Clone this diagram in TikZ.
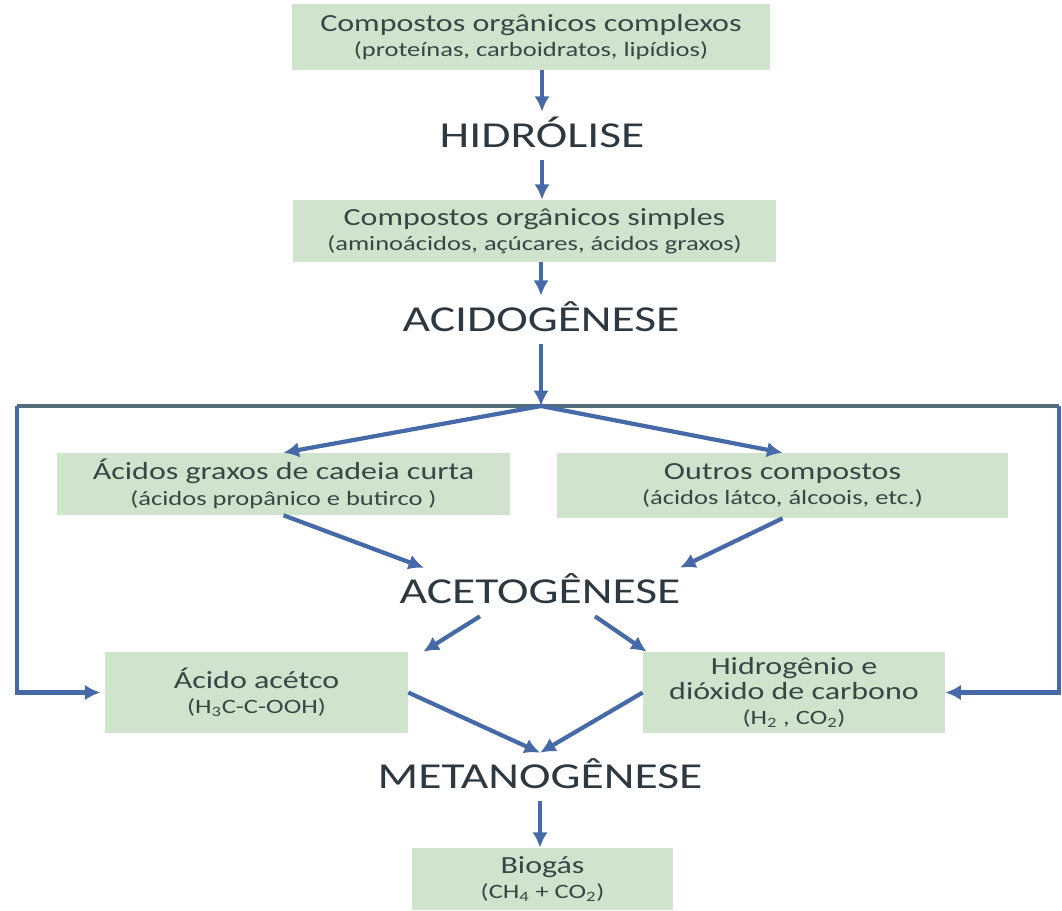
\documentclass[tikz,border=0pt]{standalone}
\usepackage{fontspec}
\setmainfont{Carlito}[FakeStretch=1.3]
\usepackage{xcolor}
\usetikzlibrary{arrows.meta, positioning, calc}

\definecolor{boxgreen}{RGB}{208,228,205}
\definecolor{flowblue}{RGB}{70,106,168}
\definecolor{loopgray}{RGB}{84,108,122}
\definecolor{boxtext}{RGB}{52,72,70}
\definecolor{stagetext}{RGB}{46,56,64}

\newcommand{\bxtitle}{\fontsize{17.5}{18}\selectfont}
\newcommand{\bxnote}{\fontsize{14.5}{18}\selectfont}

\begin{document}
\begin{tikzpicture}[x=0.025cm, y=-0.025cm,
    etapa/.style={fill=boxgreen, text=boxtext, align=center, inner sep=0pt, font=\bxtitle},
    fase/.style={text=stagetext, font=\fontsize{26}{28}\selectfont, inner sep=0pt,
        text height=17pt, text depth=0pt, minimum height=1.2cm},
    fluxo/.style={-{Latex[length=11pt,width=11pt]}, line width=3pt, flowblue},
    retorno/.style={line width=3pt, loopgray}]

    \useasboundingbox (0,0) rectangle (1062,910);

    % -------------------------------------------------------------
    % 1. caixas dos compostos
    % -------------------------------------------------------------
    \node[etapa, minimum width=11.95cm, minimum height=1.65cm] (complexos) at (531,37)
        {Compostos orgânicos complexos\\{\bxnote (proteínas, carboidratos, lipídios)}};
    \node[etapa, minimum width=12.075cm, minimum height=1.55cm] (simples) at (534.5,231)
        {Compostos orgânicos simples\\{\bxnote (aminoácidos, açúcares, ácidos graxos)}};
    \node[etapa, minimum width=11.325cm, minimum height=1.55cm] (graxos) at (283.5,484)
        {Ácidos graxos de cadeia curta\\{\bxnote (ácidos propânico e butirco )}};
    \node[etapa, minimum width=11.275cm, minimum height=1.625cm] (outros) at (782.5,485.5)
        {Outros compostos\\{\bxnote (ácidos látco, álcoois, etc.)}};
    \node[etapa, minimum width=7.575cm, minimum height=2.025cm] (acetico) at (256.5,692.5)
        {Ácido acétco\\{\bxnote (H\textsubscript{3}C-C-OOH)}};
    \node[etapa, minimum width=7.55cm, minimum height=2.025cm] (hidrogenio) at (794,692.5)
        {Hidrogênio e\\dióxido de carbono\\{\bxnote (H\textsubscript{2} , CO\textsubscript{2})}};
    \node[etapa, minimum width=6.525cm, minimum height=1.55cm] (biogas) at (542.5,879)
        {Biogás\\{\bxnote (CH\textsubscript{4} + CO\textsubscript{2})}};

    % -------------------------------------------------------------
    % 2. fases
    % -------------------------------------------------------------
    \node[fase] (hidrolise) at (542,136) {HIDRÓLISE};
    \node[fase] (acidogenese) at (541,320) {ACIDOGÊNESE};
    \node[fase] (acetogenese) at (540,592) {ACETOGÊNESE};
    \node[fase] (metanogenese) at (540,777) {METANOGÊNESE};

    % pontos do desvio
    \coordinate (split) at (541,406);
    \coordinate (ltop) at (17,406);
    \coordinate (rtop) at (1059,406);

    % -------------------------------------------------------------
    % 3. setas
    % -------------------------------------------------------------
    \draw[fluxo] (complexos.south -| hidrolise.north) -- (hidrolise.north);
    \draw[fluxo] (hidrolise.south) -- (simples.north -| hidrolise.south);
    \draw[fluxo] (simples.south -| acidogenese.north) -- (acidogenese.north);
    \draw[fluxo] (acidogenese.south) -- (split);

    \draw[retorno] (ltop) -- (rtop);
    \draw[fluxo, shorten >=3pt] (ltop) |- (acetico.west);
    \draw[fluxo] (rtop) |- (hidrogenio.east);

    \draw[fluxo] (split) -- (graxos.north);
    \draw[fluxo] (split) -- (outros.north);

    \draw[fluxo] (graxos.south) -- ([xshift=-2.9cm]acetogenese.north);
    \draw[fluxo] (outros.south) -- ([xshift=3.5cm]acetogenese.north);

    \draw[fluxo] ([xshift=-1.5cm]acetogenese.south) -- ([xshift=0.375cm]acetico.north east);
    \draw[fluxo] ([xshift=1.375cm]acetogenese.south) -- ([xshift=0.1cm]hidrogenio.north west);

    \draw[fluxo] (acetico.east) -- (metanogenese.north);
    \draw[fluxo] (hidrogenio.west) -- (metanogenese.north);
    \draw[fluxo] (metanogenese.south) -- (biogas.north -| metanogenese.south);

\end{tikzpicture}
\end{document}
